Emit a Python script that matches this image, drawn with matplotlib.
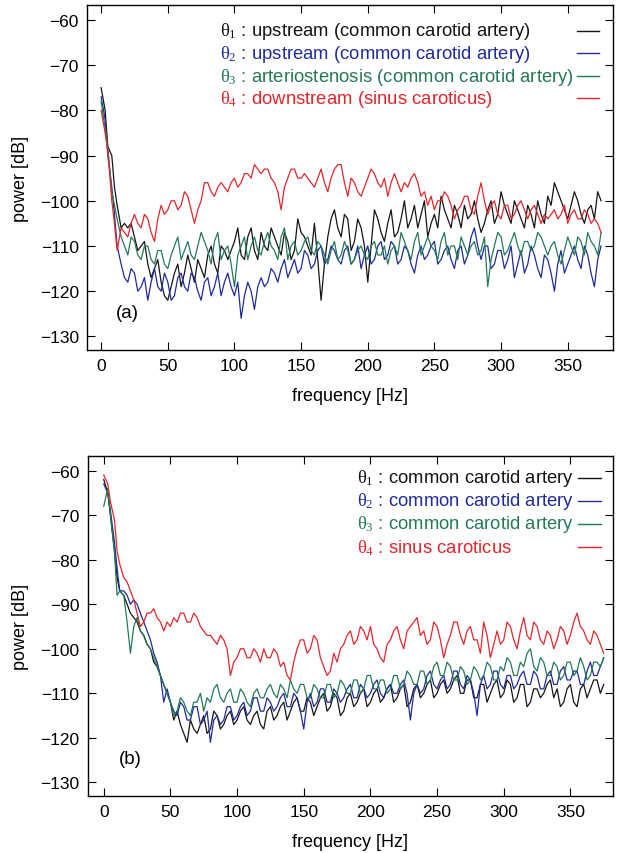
import numpy as np
import matplotlib.pyplot as plt

plt.rcParams.update({
    "font.family": "Liberation Sans",
    "mathtext.fontset": "custom",
    "mathtext.rm": "Liberation Serif",
    "mathtext.it": "Liberation Serif",
    "axes.linewidth": 1.0,
    "xtick.direction": "in",
    "ytick.direction": "in",
    "xtick.top": True,
    "ytick.right": True,
    "xtick.major.size": 6,
    "ytick.major.size": 6,
})

# Colours
c_black = "#151515"
c_blue  = "#1f2b9c"
c_green = "#237a55"
c_red   = "#e3262b"

# =============================
#  Data
# =============================
freq = [0, 3, 5, 8, 10, 12, 15, 17.5] + [20 + 2.5 * i for i in range(143)]

# --- panel (a) ---
a_theta1 = [-75, -80, -88, -90, -97, -101, -106, -105,
            -106, -105, -108, -111, -110, -109, -114, -117, -115, -113,
            -118, -121, -122, -119, -116, -114, -119, -116, -112, -115,
            -118, -113, -115, -117, -112, -110, -114, -116, -110, -111,
            -113, -111, -109, -106, -112, -113, -108, -106, -111, -113,
            -107, -110, -111, -106, -108, -110, -112, -107, -109, -113,
            -111, -104, -107, -108, -110, -112, -105, -113, -122, -114,
            -108, -104, -102, -106, -108, -103, -104, -111, -109, -104,
            -106, -110, -118, -110, -102, -104, -107, -109, -105, -102,
            -108, -107, -104, -100, -106, -104, -101, -106, -103, -100,
            -108, -105, -103, -106, -99, -102, -104, -106, -101, -103,
            -106, -101, -104, -103, -100, -104, -107, -105, -102, -100,
            -105, -103, -98, -101, -103, -105, -100, -102, -104, -106,
            -101, -103, -106, -100, -103, -105, -99, -101, -96, -98,
            -100, -102, -104, -101, -98, -100, -103, -105, -102, -101,
            -104, -98, -100]
a_theta2 = [-77, -82, -90, -97, -103, -110, -114, -117,
            -118, -115, -116, -120, -119, -117, -122, -118, -115, -119,
            -120, -116, -118, -122, -121, -117, -116, -119, -120, -116,
            -117, -120, -122, -118, -117, -121, -119, -116, -121, -118,
            -116, -119, -121, -118, -126, -121, -118, -120, -124, -119,
            -117, -119, -118, -115, -116, -118, -115, -113, -117, -115,
            -113, -116, -115, -111, -112, -115, -114, -111, -110, -114,
            -113, -110, -111, -113, -114, -111, -110, -114, -113, -110,
            -115, -112, -110, -114, -113, -110, -109, -113, -112, -109,
            -110, -114, -113, -110, -111, -114, -116, -112, -110, -113,
            -112, -110, -109, -114, -113, -111, -110, -113, -115, -111,
            -110, -114, -112, -108, -106, -110, -113, -110, -110, -115,
            -114, -111, -111, -115, -113, -110, -117, -114, -111, -116,
            -114, -110, -112, -115, -117, -112, -113, -116, -120, -114,
            -111, -116, -114, -112, -110, -113, -115, -110, -112, -116,
            -119, -113, -110]
a_theta3 = [-78, -84, -88, -98, -101, -104, -108, -110,
            -112, -108, -109, -112, -113, -110, -110, -113, -114, -111,
            -111, -114, -115, -112, -110, -108, -113, -111, -109, -112,
            -113, -110, -107, -109, -111, -114, -109, -107, -113, -111,
            -110, -114, -119, -112, -110, -108, -113, -110, -108, -111,
            -112, -109, -107, -110, -111, -113, -108, -106, -113, -110,
            -109, -112, -111, -109, -108, -111, -112, -109, -110, -112,
            -114, -111, -109, -113, -112, -109, -111, -114, -113, -111,
            -110, -112, -113, -110, -109, -112, -112, -110, -114, -111,
            -110, -112, -107, -109, -111, -113, -109, -107, -112, -110,
            -108, -110, -111, -113, -109, -107, -112, -110, -110, -113,
            -108, -110, -112, -110, -109, -112, -111, -108, -119, -113,
            -110, -107, -108, -112, -111, -109, -107, -110, -112, -109,
            -109, -111, -110, -107, -108, -110, -112, -110, -109, -112,
            -114, -111, -108, -110, -112, -108, -109, -112, -107, -109,
            -110, -112, -107]
a_theta4 = [-80, -85, -89, -100, -105, -111, -106, -107,
            -108, -105, -103, -105, -106, -103, -104, -107, -109, -104,
            -101, -103, -102, -100, -100, -102, -101, -98, -99, -102,
            -105, -102, -100, -96, -96, -98, -99, -97, -96, -97,
            -98, -96, -95, -97, -96, -94, -94, -95, -92, -93,
            -94, -93, -93, -95, -96, -98, -102, -97, -95, -93,
            -93, -95, -95, -94, -95, -96, -97, -95, -93, -96,
            -98, -95, -93, -92, -92, -96, -99, -95, -96, -98,
            -99, -97, -95, -93, -94, -96, -97, -95, -99, -96,
            -94, -96, -98, -96, -97, -95, -94, -96, -99, -98,
            -101, -99, -102, -100, -100, -98, -99, -101, -104, -102,
            -101, -99, -99, -102, -103, -99, -96, -100, -103, -101,
            -100, -103, -104, -101, -101, -104, -103, -101, -100, -102,
            -104, -102, -101, -103, -105, -103, -104, -103, -102, -104,
            -103, -101, -105, -103, -102, -104, -104, -102, -103, -105,
            -104, -105, -107]

# --- panel (b) ---
b_theta1 = [-62, -65, -70, -78, -84, -87, -88, -90,
            -92, -93, -94, -96, -97, -99, -100, -103, -104, -106,
            -108, -110, -112, -116, -114, -117, -119, -121, -116, -118,
            -119, -117, -115, -119, -118, -114, -115, -118, -117, -115,
            -114, -117, -116, -114, -113, -116, -117, -115, -114, -117,
            -118, -114, -113, -116, -115, -113, -112, -116, -114, -112,
            -111, -114, -114, -111, -112, -115, -113, -111, -110, -114,
            -113, -110, -111, -115, -114, -111, -110, -113, -112, -110,
            -109, -113, -112, -110, -109, -112, -111, -109, -108, -112,
            -111, -109, -108, -113, -112, -109, -108, -111, -110, -108,
            -107, -111, -110, -108, -107, -110, -109, -107, -106, -110,
            -110, -107, -107, -111, -111, -108, -108, -112, -110, -108,
            -107, -111, -110, -107, -108, -112, -111, -108, -108, -113,
            -112, -109, -109, -111, -110, -108, -107, -111, -109, -113,
            -112, -109, -108, -112, -113, -109, -108, -111, -109, -107,
            -107, -110, -108]
b_theta2 = [-63, -65, -69, -76, -82, -87, -87, -88,
            -90, -89, -90, -92, -94, -96, -98, -101, -103, -106,
            -112, -109, -112, -114, -115, -112, -113, -116, -116, -113,
            -113, -117, -116, -114, -121, -116, -115, -117, -116, -113,
            -113, -116, -115, -113, -112, -115, -114, -111, -111, -114,
            -114, -111, -112, -114, -113, -111, -110, -113, -113, -110,
            -111, -114, -118, -112, -110, -113, -112, -109, -109, -112,
            -112, -109, -110, -112, -111, -109, -108, -111, -111, -108,
            -109, -111, -110, -108, -107, -110, -111, -109, -108, -110,
            -110, -108, -107, -110, -116, -110, -108, -110, -109, -106,
            -105, -108, -109, -107, -106, -109, -108, -105, -105, -108,
            -109, -106, -107, -110, -115, -108, -106, -109, -108, -105,
            -105, -108, -109, -106, -106, -109, -108, -106, -105, -108,
            -108, -105, -106, -109, -109, -106, -105, -108, -108, -105,
            -104, -107, -107, -105, -105, -108, -108, -105, -103, -106,
            -106, -104, -102]
b_theta3 = [-68, -64, -70, -78, -88, -87, -88, -94,
            -101, -95, -93, -96, -97, -99, -100, -102, -104, -106,
            -108, -110, -112, -115, -114, -111, -112, -114, -115, -112,
            -112, -110, -114, -111, -112, -109, -108, -111, -112, -110,
            -109, -112, -112, -109, -110, -112, -113, -110, -109, -111,
            -111, -109, -108, -110, -111, -108, -109, -111, -107, -109,
            -110, -108, -108, -111, -111, -108, -109, -111, -111, -108,
            -108, -111, -110, -107, -108, -110, -110, -107, -107, -110,
            -109, -106, -106, -109, -109, -107, -107, -110, -109, -106,
            -106, -109, -108, -105, -106, -108, -108, -105, -105, -108,
            -107, -104, -103, -106, -106, -103, -104, -107, -107, -104,
            -105, -108, -107, -104, -105, -107, -106, -103, -104, -107,
            -107, -104, -105, -102, -103, -106, -106, -103, -104, -101,
            -100, -104, -105, -102, -103, -106, -106, -103, -104, -107,
            -106, -103, -103, -106, -105, -102, -104, -107, -106, -103,
            -103, -104, -102]
b_theta4 = [-61, -63, -67, -71, -78, -81, -84, -85,
            -87, -89, -92, -95, -94, -92, -92, -91, -93, -94,
            -96, -94, -95, -93, -94, -92, -92, -94, -94, -92,
            -93, -95, -96, -97, -97, -98, -99, -97, -98, -100,
            -106, -103, -102, -100, -100, -102, -102, -100, -101, -103,
            -100, -102, -102, -100, -101, -104, -103, -106, -107, -103,
            -100, -98, -98, -101, -100, -97, -98, -102, -104, -106,
            -105, -101, -103, -100, -99, -97, -96, -99, -98, -95,
            -96, -98, -95, -99, -100, -102, -103, -99, -98, -96,
            -95, -98, -100, -96, -95, -94, -93, -97, -96, -99,
            -98, -94, -95, -98, -102, -99, -97, -94, -94, -97,
            -99, -96, -95, -98, -98, -101, -94, -97, -102, -99,
            -96, -99, -98, -94, -95, -98, -100, -96, -93, -97,
            -98, -94, -95, -98, -99, -96, -97, -100, -98, -95,
            -96, -99, -97, -94, -92, -95, -96, -98, -99, -96,
            -97, -99, -101]

labels_a = [r"$\theta_1$ : upstream (common carotid artery)",
            r"$\theta_2$ : upstream (common carotid artery)",
            r"$\theta_3$ : arteriostenosis (common carotid artery)",
            r"$\theta_4$ : downstream (sinus caroticus)"]
labels_b = [r"$\theta_1$ : common carotid artery",
            r"$\theta_2$ : common carotid artery",
            r"$\theta_3$ : common carotid artery",
            r"$\theta_4$ : sinus caroticus"]

colors = [c_black, c_blue, c_green, c_red]
yticks = [-60, -70, -80, -90, -100, -110, -120, -130]
xticks = [0, 50, 100, 150, 200, 250, 300, 350]


def draw_panel(ax, series, labels, tag, xlim, key_x, key_rows, key_line):
    for y, col in zip(series, colors):
        ax.plot(freq, y, color=col, linewidth=0.9)
    ax.set_xlim(*xlim)
    ax.set_ylim(-133, -56.7)
    ax.set_xticks(xticks)
    ax.set_yticks(yticks)
    ax.tick_params(labelsize=12.5, pad=6)
    ax.set_xlabel("frequency [Hz]", fontsize=13, labelpad=10)
    ax.set_ylabel("power [dB]", fontsize=13, labelpad=8)
    ax.text(20, -124.6, tag, fontsize=13.5, ha="center", va="center")

    # gnuplot-style key: left-aligned text, sample line on the right
    for lab, col, ky in zip(labels, colors, key_rows):
        ax.text(key_x, ky, lab, color=col, fontsize=13.3, ha="left", va="center",
                transform=ax.transAxes)
        ax.plot(key_line, [ky, ky], color=col, linewidth=1.0, transform=ax.transAxes,
                clip_on=False)


fig = plt.figure(figsize=(6.18, 8.54), dpi=100)
ax1 = fig.add_axes([0.141, 0.589, 0.851, 0.404])
ax2 = fig.add_axes([0.142, 0.067, 0.850, 0.398])

draw_panel(ax1, [a_theta1, a_theta2, a_theta3, a_theta4], labels_a, "(a)", (-10.5, 384),
           0.253, [0.926, 0.860, 0.794, 0.730], [0.932, 0.973])
draw_panel(ax2, [b_theta1, b_theta2, b_theta3, b_theta4], labels_b, "(b)", (-12, 382),
           0.513, [0.935, 0.868, 0.800, 0.732], [0.933, 0.978])

fig.savefig("out.png", dpi=100)
